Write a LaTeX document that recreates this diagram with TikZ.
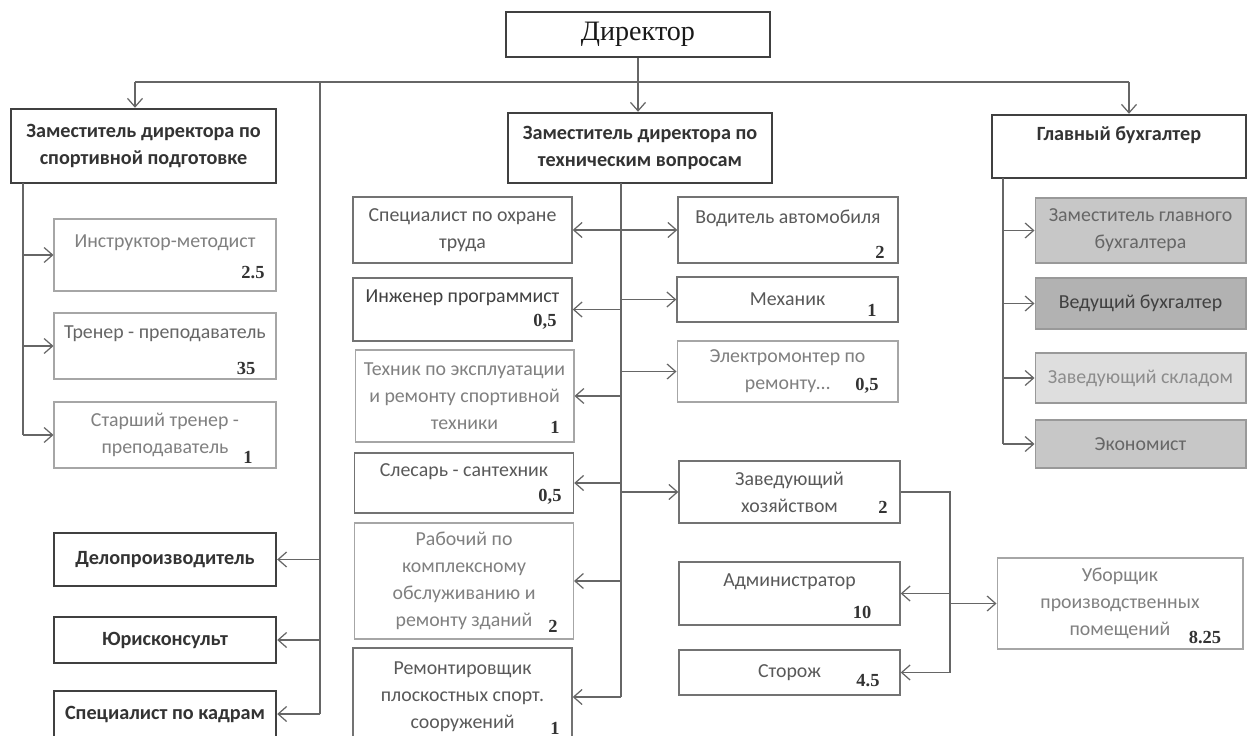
\documentclass[tikz,border=0pt]{standalone}
\usepackage{fontspec}
\setmainfont{Carlito}
\newfontfamily\dirfont{Liberation Serif}
\usetikzlibrary{arrows.meta,positioning}

\begin{document}
\begin{tikzpicture}[
x=0.02cm, y=-0.02cm,
>={Straight Barb[length=1.7mm,width=3mm]},
base/.style = {rectangle, align=center, inner sep=2pt, font=\fontsize{11.3}{15.3}\selectfont},
headbox/.style = {base, draw=black!75, line width=1.4pt, text=black!80, font=\fontsize{11.5}{15.3}\selectfont\bfseries},
unitbox/.style = {base, draw=black!55, line width=0.8pt, text=black!65},
palebox/.style = {base, draw=black!35, line width=0.6pt, text=black!50},
buhbox/.style = {base, draw=black!40, line width=0.6pt, text=black!60, minimum width=4.22cm},
num/.style = {inner sep=0pt, text=black!80, font=\dirfont\fontsize{10.5}{12}\selectfont\bfseries},
link/.style = {draw=black!60, line width=0.7pt}
]
\useasboundingbox[fill=white] (0,0) rectangle (1250,736);

% top level
\node [headbox, text=black!90, font=\dirfont\fontsize{16}{18}\selectfont, minimum width=5.28cm, minimum height=0.9cm] (dir) at (638,34.5) {Директор};
\node [headbox, minimum width=5.3cm, minimum height=1.48cm] (zsport) at (143.5,146) {Заместитель директора по\\спортивной подготовке};
\node [headbox, minimum width=5.28cm, minimum height=1.4cm] (ztech) at (640,148) {Заместитель директора по\\техническим вопросам};
\node [headbox, minimum width=5.08cm, minimum height=1.26cm] (gbuh) at (1119,146.5) {Главный бухгалтер\\~};

% left column
\node [palebox, minimum width=4.44cm, minimum height=1.44cm] (instr) at (165,255) {Инструктор-методист\\~};
\node [palebox, text=black!60, minimum width=4.44cm, minimum height=1.32cm] (trener) at (165,346) {Тренер - преподаватель\\~};
\node [palebox, minimum width=4.44cm, minimum height=1.32cm] (starsh) at (165,435) {Старший тренер -\\преподаватель};
\node [headbox, minimum width=4.44cm, minimum height=1.06cm] (delo) at (165,559.5) {Делопроизводитель};
\node [headbox, minimum width=4.44cm, minimum height=0.92cm] (yur) at (165,640) {Юрисконсульт};
\node [headbox, minimum width=4.44cm, minimum height=0.92cm] (kadr) at (165,714) {Специалист по кадрам};

% middle column
\node [unitbox, minimum width=4.38cm, minimum height=1.32cm] (ohr) at (462.5,230) {Специалист по охране\\труда};
\node [unitbox, text=black!75, minimum width=4.38cm, minimum height=1.26cm] (inzh) at (462.5,309.5) {Инженер программист\\~};
\node [palebox, minimum width=4.38cm, minimum height=1.84cm] (tekh) at (464.5,396) {Техник по эксплуатации\\и ремонту спортивной\\техники};
\node [unitbox, minimum width=4.38cm, minimum height=1.2cm] (sles) at (464,483) {Слесарь - сантехник\\~};
\node [palebox, minimum width=4.38cm, minimum height=2.32cm] (rab) at (464,581) {Рабочий по\\комплексному\\обслуживанию и\\ремонту зданий};
\node [unitbox, minimum width=4.38cm, minimum height=1.96cm] (remont) at (462.5,697) {Ремонтировщик\\плоскостных спорт.\\сооружений};

\node [unitbox, minimum width=4.4cm, minimum height=1.32cm] (vod) at (788,230) {Водитель автомобиля\\~};
\node [unitbox, minimum width=4.42cm, minimum height=0.9cm] (mekh) at (787.5,299.5) {Механик};
\node [palebox, minimum width=4.42cm, minimum height=1.22cm] (elek) at (787.5,371.5) {Электромонтер по\\ремонту…};
\node [unitbox, minimum width=4.42cm, minimum height=1.24cm] (zavkh) at (789.5,492) {Заведующий\\хозяйством};
\node [unitbox, minimum width=4.42cm, minimum height=1.26cm] (adm) at (789.5,593.5) {Администратор\\~};
\node [unitbox, minimum width=4.42cm, minimum height=0.9cm] (stor) at (789.5,672.5) {Сторож};
\node [palebox, minimum width=4.92cm, minimum height=1.82cm] (ubor) at (1120,603.5) {Уборщик\\производственных\\помещений};

% accounting
\node [buhbox, fill=black!22, minimum height=1.3cm] (zgb) at (1140.5,230.5) {Заместитель главного\\бухгалтера};
\node [buhbox, fill=black!30, text=black!75, minimum height=1.02cm] (vedb) at (1140.5,303.5) {Ведущий бухгалтер};
\node [buhbox, fill=black!13, text=black!45, minimum height=1.0cm] (zsklad) at (1140.5,378) {Заведующий складом};
\node [buhbox, fill=black!22, minimum height=0.96cm] (econ) at (1140.5,444) {Экономист};

% numbers
\node [num] (n-instr) at (253,273) {2.5};
\node [num] (n-trener) at (246,368) {35};
\node [num] (n-starsh) at (248,457) {1};
\node [num] (n-inzh) at (545,322) {0,5};
\node [num] (n-tekh) at (555,427) {1};
\node [num] (n-sles) at (550,497) {0,5};
\node [num] (n-rab) at (553,626) {2};
\node [num] (n-remont) at (555,728) {1};
\node [num] (n-vod) at (880,252) {2};
\node [num] (n-mekh) at (872,310) {1};
\node [num] (n-elek) at (867,386) {0,5};
\node [num] (n-zavkh) at (883,507) {2};
\node [num] (n-adm) at (862,612) {10};
\node [num] (n-stor) at (868,681) {4.5};
\node [num] (n-ubor) at (1205,637) {8.25};

% arrows
\coordinate (busL) at (135,82);
\coordinate (busR) at (1129,82);
\coordinate (lt) at (320,82);
\draw[link] (busL) -- (busR);
\draw[link,->] (busL) -- (busL |- zsport.north);
\draw[link,->] (busR) -- (busR |- gbuh.north);
\draw[link,->] (dir.south) -- (dir.south |- ztech.north);

\draw[link] (lt) -- (lt |- kadr.east);
\foreach \n in {delo,yur,kadr} \draw[link,->] (lt |- \n.east) -- (\n.east);

\coordinate (st) at (23,183);
\draw[link] (st) -- (st |- starsh.west);
\foreach \n in {instr,trener,starsh} \draw[link,->] (st |- \n.west) -- (\n.west);

\coordinate (tt) at (621,183);
\draw[link] (tt) -- (tt |- remont.east);
\foreach \n in {ohr,inzh,tekh,sles,rab,remont} \draw[link,->] (tt |- \n.east) -- (\n.east);
\foreach \n in {vod,mekh,elek,zavkh} \draw[link,->] (tt |- \n.west) -- (\n.west);

\coordinate (bt) at (1003,178);
\draw[link] (bt) -- (bt |- econ.west);
\foreach \n in {zgb,vedb,zsklad,econ} \draw[link,->] (bt |- \n.west) -- (\n.west);

\coordinate (zt) at (950,492);
\draw[link] (zavkh.east) -- (zt) -- (zt |- stor.east);
\foreach \n in {adm,stor} \draw[link,->] (zt |- \n.east) -- (\n.east);
\draw[link,->] (zt |- ubor.west) -- (ubor.west);

\end{tikzpicture}
\end{document}
